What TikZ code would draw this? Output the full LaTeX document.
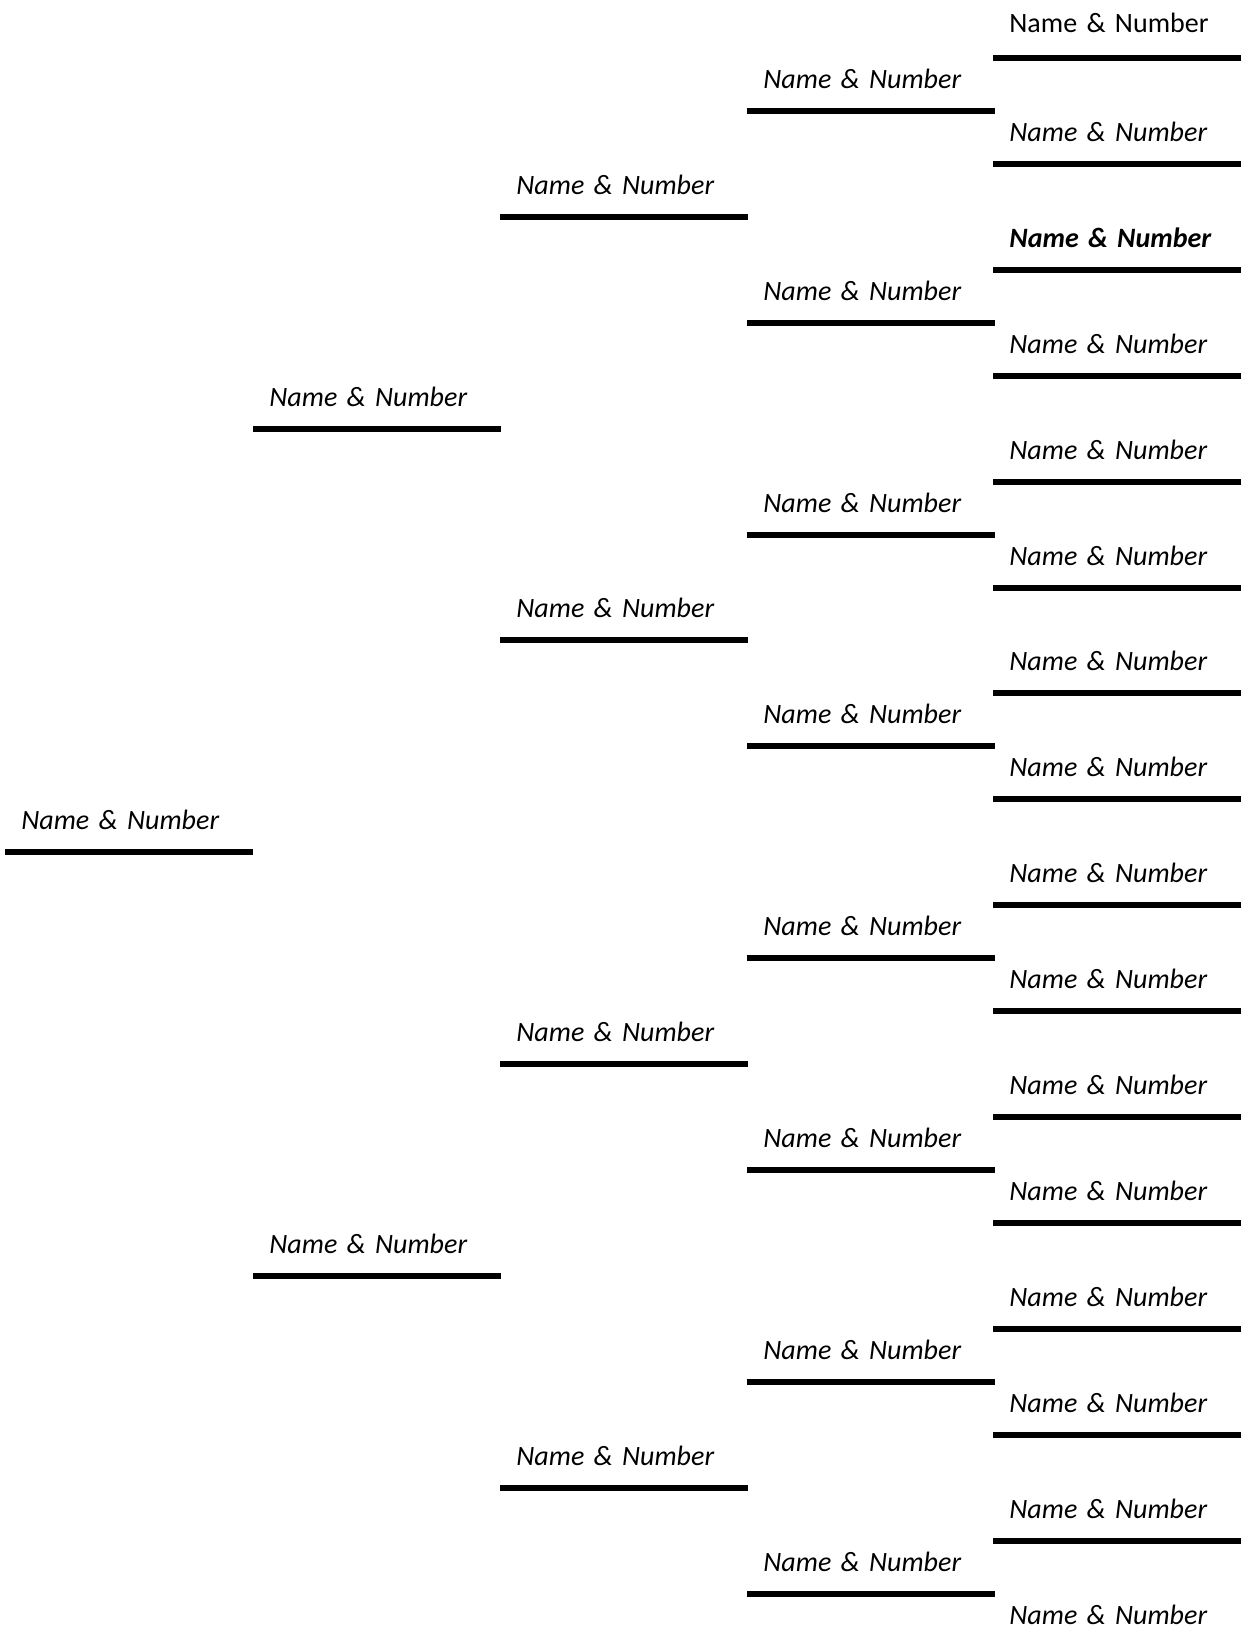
\documentclass[tikz,border=0pt]{standalone}
\usepackage{fontspec}
\setmainfont{Carlito}
\usepackage{tikz}

\begin{document}
\begin{tikzpicture}[
        x=0.5pt, y=-0.5pt,
        slot/.style={anchor=south west, text width=107.5pt, align=left,
                     inner xsep=8pt, inner ysep=11pt, text depth=0pt,
                     font=\fontsize{14}{17}\selectfont\itshape},
        bar/.style={line width=3pt, black}
      ]
        \useasboundingbox (0,0) rectangle (1242,1644);

        % generation 0
        \node[slot] (self) at (5,852) {Name \& Number};
        \draw[bar] (self.south west) -- (self.south east);

        % generation 1
        \node[slot] (par1) at (253,429) {Name \& Number};
        \node[slot] (par2) at (253,1276) {Name \& Number};
        \draw[bar] (par1.south west) -- (par1.south east);
        \draw[bar] (par2.south west) -- (par2.south east);

        % generation 2
        \node[slot] (gpar1) at (500,217) {Name \& Number};
        \node[slot] (gpar2) at (500,640) {Name \& Number};
        \node[slot] (gpar3) at (500,1064) {Name \& Number};
        \node[slot] (gpar4) at (500,1488) {Name \& Number};
        \draw[bar] (gpar1.south west) -- (gpar1.south east);
        \draw[bar] (gpar2.south west) -- (gpar2.south east);
        \draw[bar] (gpar3.south west) -- (gpar3.south east);
        \draw[bar] (gpar4.south west) -- (gpar4.south east);

        % generation 3
        \node[slot] (ggpar1) at (747,111) {Name \& Number};
        \node[slot] (ggpar2) at (747,323) {Name \& Number};
        \node[slot] (ggpar3) at (747,535) {Name \& Number};
        \node[slot] (ggpar4) at (747,746) {Name \& Number};
        \node[slot] (ggpar5) at (747,958) {Name \& Number};
        \node[slot] (ggpar6) at (747,1170) {Name \& Number};
        \node[slot] (ggpar7) at (747,1382) {Name \& Number};
        \node[slot] (ggpar8) at (747,1594) {Name \& Number};
        \draw[bar] (ggpar1.south west) -- (ggpar1.south east);
        \draw[bar] (ggpar2.south west) -- (ggpar2.south east);
        \draw[bar] (ggpar3.south west) -- (ggpar3.south east);
        \draw[bar] (ggpar4.south west) -- (ggpar4.south east);
        \draw[bar] (ggpar5.south west) -- (ggpar5.south east);
        \draw[bar] (ggpar6.south west) -- (ggpar6.south east);
        \draw[bar] (ggpar7.south west) -- (ggpar7.south east);
        \draw[bar] (ggpar8.south west) -- (ggpar8.south east);

        % generation 4
        \node[slot, inner ysep=12.5pt, font=\fontsize{14}{17}\selectfont] (gggpar1) at (993,58) {Name \& Number};
        \node[slot] (gggpar2) at (993,164) {Name \& Number};
        \node[slot, font=\fontsize{14}{17}\selectfont\itshape\bfseries] (gggpar3) at (993,270) {Name \& Number};
        \node[slot] (gggpar4) at (993,376) {Name \& Number};
        \node[slot] (gggpar5) at (993,482) {Name \& Number};
        \node[slot] (gggpar6) at (993,588) {Name \& Number};
        \node[slot] (gggpar7) at (993,693) {Name \& Number};
        \node[slot] (gggpar8) at (993,799) {Name \& Number};
        \node[slot] (gggpar9) at (993,905) {Name \& Number};
        \node[slot] (gggpar10) at (993,1011) {Name \& Number};
        \node[slot] (gggpar11) at (993,1117) {Name \& Number};
        \node[slot] (gggpar12) at (993,1223) {Name \& Number};
        \node[slot] (gggpar13) at (993,1329) {Name \& Number};
        \node[slot] (gggpar14) at (993,1435) {Name \& Number};
        \node[slot] (gggpar15) at (993,1541) {Name \& Number};
        \node[slot] (gggpar16) at (993,1647) {Name \& Number};
        \draw[bar] (gggpar1.south west) -- (gggpar1.south east);
        \draw[bar] (gggpar2.south west) -- (gggpar2.south east);
        \draw[bar] (gggpar3.south west) -- (gggpar3.south east);
        \draw[bar] (gggpar4.south west) -- (gggpar4.south east);
        \draw[bar] (gggpar5.south west) -- (gggpar5.south east);
        \draw[bar] (gggpar6.south west) -- (gggpar6.south east);
        \draw[bar] (gggpar7.south west) -- (gggpar7.south east);
        \draw[bar] (gggpar8.south west) -- (gggpar8.south east);
        \draw[bar] (gggpar9.south west) -- (gggpar9.south east);
        \draw[bar] (gggpar10.south west) -- (gggpar10.south east);
        \draw[bar] (gggpar11.south west) -- (gggpar11.south east);
        \draw[bar] (gggpar12.south west) -- (gggpar12.south east);
        \draw[bar] (gggpar13.south west) -- (gggpar13.south east);
        \draw[bar] (gggpar14.south west) -- (gggpar14.south east);
        \draw[bar] (gggpar15.south west) -- (gggpar15.south east);
        \draw[bar] (gggpar16.south west) -- (gggpar16.south east);
      \end{tikzpicture}
\end{document}
